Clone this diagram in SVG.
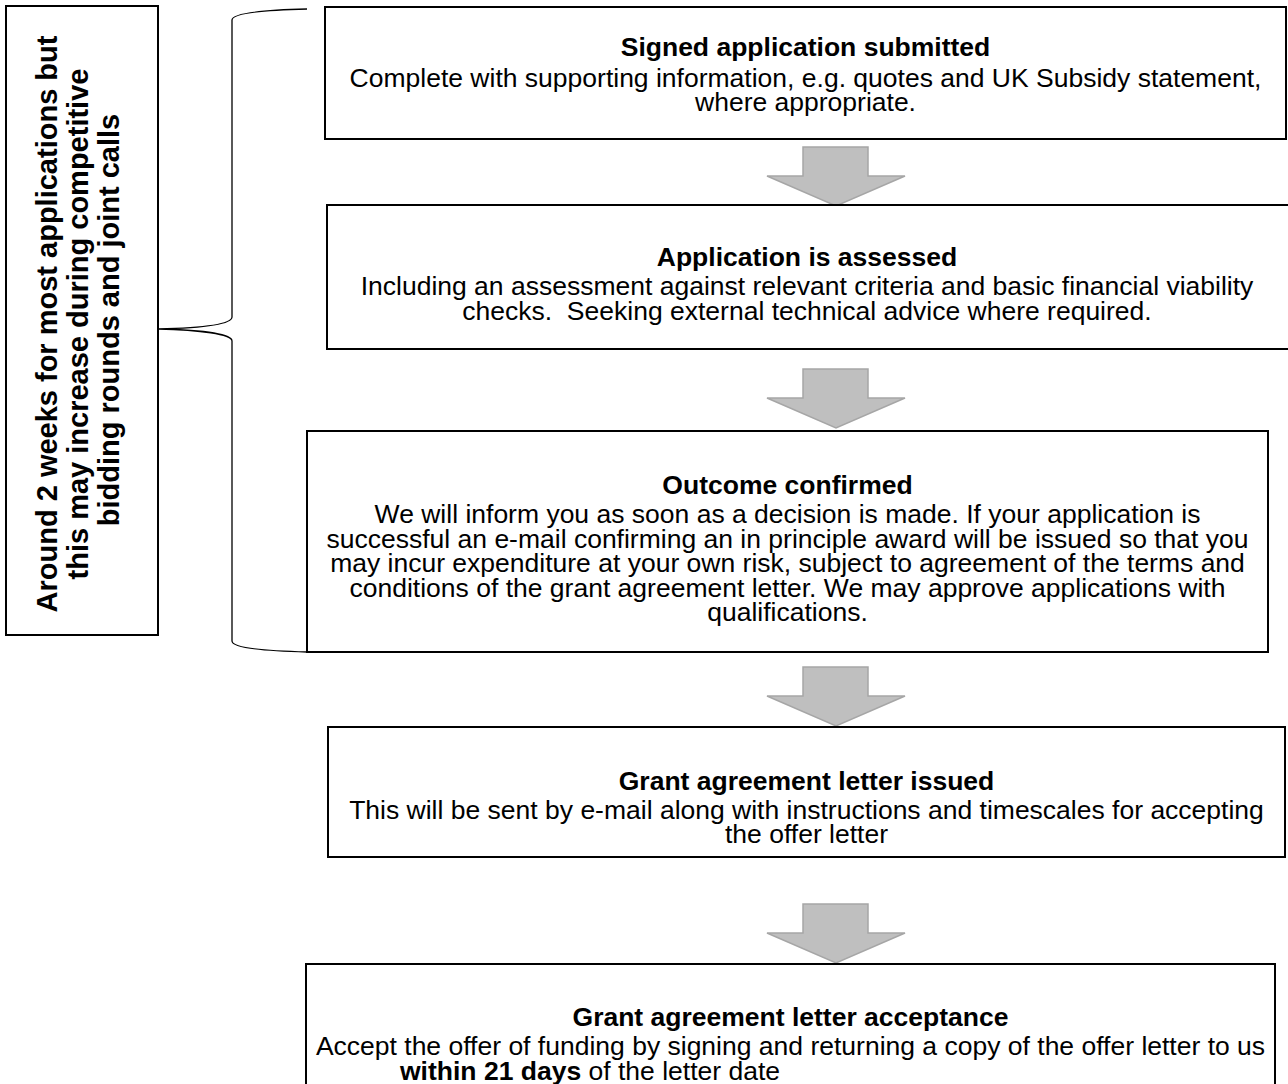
<svg xmlns="http://www.w3.org/2000/svg" xmlns:xlink="http://www.w3.org/1999/xlink" width="1288" height="1084" viewBox="0 0 1288 1084">
<style>
  .box { fill: #ffffff; stroke: #000000; stroke-width: 2; }
  .t { font-family: "Liberation Sans", Arial, sans-serif; font-size: 26.5px; fill: #000000; text-anchor: middle; }
  .b { font-weight: bold; }
  .side { font-family: "Liberation Sans", Arial, sans-serif; font-size: 29px; font-weight: bold; fill: #000000; text-anchor: middle; }
  .arrow { fill: #BFBFBF; stroke: #A6A6A6; stroke-width: 1.5; }
  .brace { fill: none; stroke: #000000; stroke-width: 1.3; }
</style>
<defs>
  <path id="down" d="M-33,0 H32 V29 H69 L0,59 L-69,29 H-33 Z"/>
</defs>
<rect width="1288" height="1084" fill="#ffffff"/>

<g id="node-timescale">
  <rect class="box" x="6" y="6" width="152" height="629"/>
  <text class="side" transform="translate(0,320) rotate(-90)">
    <tspan x="0" y="57">Around 2 weeks for most applications but</tspan>
    <tspan x="0" y="88">this may increase during competitive</tspan>
    <tspan x="0" y="119">bidding rounds and joint calls</tspan>
  </text>
</g>

<g id="connectors">
  <path class="brace" d="M307,9 C265,10 232,13 232,20 V317 C232,325 200,328 158,329 C200,330 232,334 232,341 V641 C232,648 265,651 307,652"/>
  <use xlink:href="#down" class="arrow" transform="translate(836,147)"/>
  <use xlink:href="#down" class="arrow" transform="translate(836,369)"/>
  <use xlink:href="#down" class="arrow" transform="translate(836,667)"/>
  <use xlink:href="#down" class="arrow" transform="translate(836,904)"/>
</g>

<g id="node-submitted">
  <rect class="box" x="325" y="7" width="961" height="132"/>
  <text class="t b" x="805.5" y="56">Signed application submitted</text>
  <text class="t" x="805.5" y="87">Complete with supporting information, e.g. quotes and UK Subsidy statement,</text>
  <text class="t" x="805.5" y="110.5">where appropriate.</text>
</g>

<g id="node-assessed">
  <rect class="box" x="327" y="205" width="964" height="144"/>
  <text class="t b" x="807" y="266">Application is assessed</text>
  <text class="t" x="807" y="295">Including an assessment against relevant criteria and basic financial viability</text>
  <text class="t" x="807" y="319.5">checks.&#160; Seeking external technical advice where required.</text>
</g>

<g id="node-outcome">
  <rect class="box" x="307" y="431" width="961" height="221"/>
  <text class="t b" x="787.5" y="494">Outcome confirmed</text>
  <text class="t" x="787.5" y="523">We will inform you as soon as a decision is made. If your application is</text>
  <text class="t" x="787.5" y="547.5">successful an e-mail confirming an in principle award will be issued so that you</text>
  <text class="t" x="787.5" y="572">may incur expenditure at your own risk, subject to agreement of the terms and</text>
  <text class="t" x="787.5" y="596.5">conditions of the grant agreement letter. We may approve applications with</text>
  <text class="t" x="787.5" y="621">qualifications.</text>
</g>

<g id="node-letter-issued">
  <rect class="box" x="328" y="727" width="957" height="130"/>
  <text class="t b" x="806.5" y="790">Grant agreement letter issued</text>
  <text class="t" x="806.5" y="819">This will be sent by e-mail along with instructions and timescales for accepting</text>
  <text class="t" x="806.5" y="843">the offer letter</text>
</g>

<g id="node-acceptance">
  <rect class="box" x="306" y="964" width="969" height="140"/>
  <text class="t b" x="790.5" y="1026">Grant agreement letter acceptance</text>
  <text class="t" x="790.5" y="1055">Accept the offer of funding by signing and returning a copy of the offer letter to us</text>
  <text class="t" x="400" y="1079.5" style="text-anchor:start"><tspan class="b">within 21 days</tspan> of the letter date</text>
</g>
</svg>
